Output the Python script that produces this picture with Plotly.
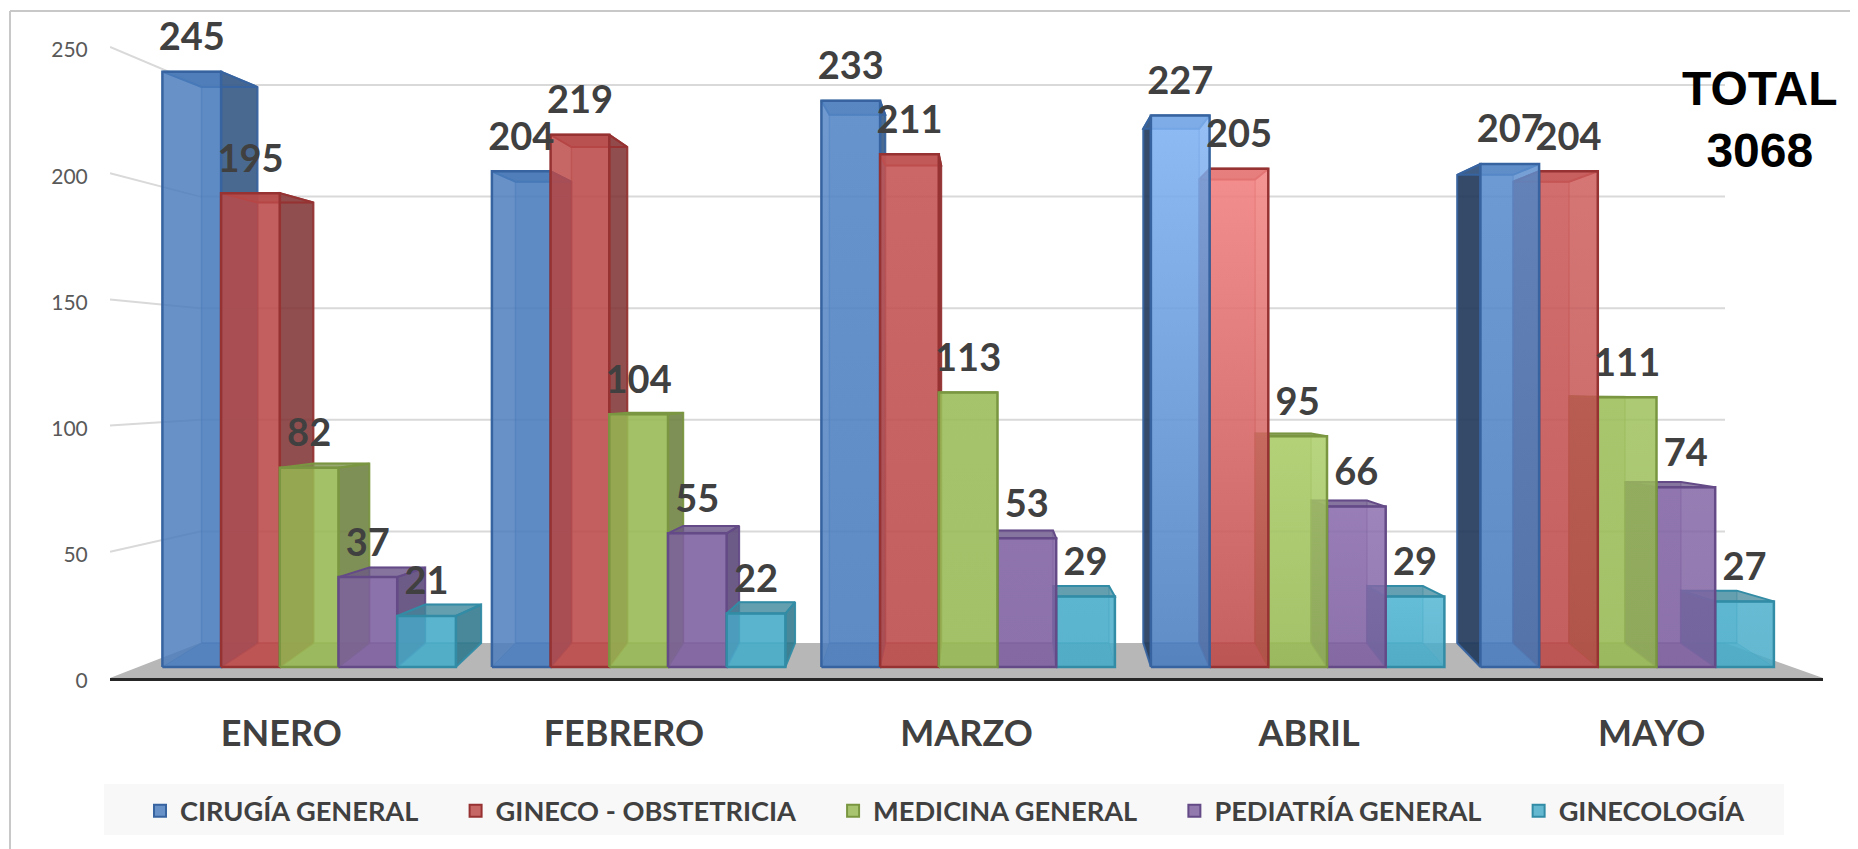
import plotly.graph_objects as go

MONTHS = ["ENERO", "FEBRERO", "MARZO", "ABRIL", "MAYO"]
SERIES = ["CIRUGÍA GENERAL", "GINECO - OBSTETRICIA", "MEDICINA GENERAL", "PEDIATRÍA GENERAL", "GINECOLOGÍA"]
CIRUGIA = [245, 204, 233, 227, 207]
GINECO_OBST = [195, 219, 211, 205, 204]
MEDICINA = [82, 104, 113, 95, 111]
PEDIATRIA = [37, 55, 53, 66, 74]
GINECOLOGIA = [21, 22, 29, 29, 27]
VALUES = [CIRUGIA, GINECO_OBST, MEDICINA, PEDIATRIA, GINECOLOGIA]
TICKS = [0, 50, 100, 150, 200, 250]
TOTAL = 3068

FRONT = [(103, 145, 199), (198, 103, 102), (168, 196, 111), (146, 121, 174), (100, 184, 208)]
EDGE = [(55, 100, 160), (150, 50, 50), (122, 150, 65), (100, 75, 135), (50, 140, 165)]
SIDE = [(45, 80, 125), (125, 50, 50), (105, 125, 60), (85, 65, 115), (45, 115, 135)]
MONTH_GLOW = [0, 0, 10, 55, 18]
SERIES_GLOW = [1, 1, .35, .25, .2]
FRONT_ALPHA = 0.84

# figure geometry, in page pixels (the page body has an 8px margin)
PAGE = 8
W, H = 1858 - PAGE, 849 - PAGE
PL, PR, BASE = 110, 1823, 678
UY = 2.524
UX = (PR - PL) / 5
def X(px): return -0.5 + (px - PL) / UX
def Y(py): return (BASE - py) / UY
def PX(px): return (px - PL) / (PR - PL)
def PY(py): return (BASE - py) / (BASE - PAGE)

# 3-D projection of a bar (front plane / back plane)
F0, FK = 667, 2.43
B0 = 643
T0, TK = 653, 2.31
GK = (643 - 85) / 250
G0X, GP, BW = 162.4, 329.5, 58.7
VX, DEPTH = 990, 0.0473
def fy(v): return Y(F0 - v * FK)
def by(v): return Y(T0 - v * TK)
def bx(x): return x + (VX - x) * DEPTH

def rgba(c, a): return f"rgba({c[0]},{c[1]},{c[2]},{a})"
def unblend(c, a): return tuple(max(0, round((k - 255 * (1 - a)) / a)) for k in c)
def glow(c, k): return tuple(min(255, round(q + k)) for q in c)
def shade(c, f): return tuple(round(q * f) for q in c)

fig = go.Figure()

def poly(xs, ys, fill, line, width=2, grad=None):
    kw = {}
    if grad is not None:
        kw["fillgradient"] = dict(type="vertical", colorscale=grad)
    fig.add_trace(go.Scatter(x=[X(p) for p in xs] + [X(xs[0])], y=list(ys) + [ys[0]], mode="lines", fill="toself",
                             fillcolor=fill, line=dict(color=line, width=width), hoverinfo="skip", showlegend=False, **kw))

# back-wall gridlines with their slanted left part
for t in TICKS[1:]:
    gy = Y(643 - t * GK)
    fig.add_trace(go.Scatter(x=[X(PL), X(200), X(1725)], y=[t, gy, gy], mode="lines",
                             line=dict(color="#D9D9D9", width=2), hoverinfo="skip", showlegend=False))

# floor
poly([PL, PR, 1725, 200], [0, 0, Y(B0), Y(B0)], "#B7B7B7", "#B7B7B7", 0)

# bars, painted from the outermost towards the vanishing point
for m in range(len(MONTHS)):
    order = sorted(range(len(SERIES)), key=lambda s: -abs(G0X + m * GP + (s + .5) * BW - VX))
    for s in order:
        v = VALUES[s][m]
        x0 = G0X + m * GP + s * BW
        x1 = x0 + BW
        b0, b1 = bx(x0), bx(x1)
        k = MONTH_GLOW[m] * SERIES_GLOW[s]
        fc, ec, sc = FRONT[s], EDGE[s], SIDE[s]
        fill = unblend(fc, FRONT_ALPHA)
        # back face
        poly([b0, b1, b1, b0], [Y(B0), Y(B0), by(v), by(v)], rgba(glow(fc, k * .6), 0.35), rgba(ec, 0.45), 1.5)
        # floor face
        poly([x0, x1, b1, b0], [fy(0), fy(0), Y(B0), Y(B0)], rgba(fc, 0.45), rgba(ec, 0.4), 1)
        # side face facing the viewer
        if x1 < VX:
            poly([x1, b1, b1, x1], [fy(0), Y(B0), by(v), fy(v)], rgba(sc, 0.82), rgba(ec, 0.9), 2)
        elif x0 > VX:
            dark = shade(sc, 0.68) if s == 0 else sc
            poly([x0, b0, b0, x0], [fy(0), Y(B0), by(v), fy(v)], rgba(dark, 0.88), rgba(ec, 0.9), 2)
        # top face
        poly([x0, x1, b1, b0], [fy(v), fy(v), by(v), by(v)], rgba(glow(sc, 20), 0.75), rgba(ec, 1), 2)
        # front face
        grad = [[0, rgba(fill, FRONT_ALPHA)], [1, rgba(glow(fill, k), FRONT_ALPHA)]] if k else None
        poly([x0, x1, x1, x0], [fy(0), fy(0), fy(v), fy(v)], rgba(fill, FRONT_ALPHA), rgba(ec, 1), 2.5, grad)

# data labels
LABEL_LIFT = 12 / UY
for s, vals in enumerate(VALUES):
    xs = [X(G0X + m * GP + (s + .5) * BW) for m in range(len(vals))]
    fig.add_trace(go.Scatter(x=xs, y=[fy(v) + LABEL_LIFT for v in vals], mode="text", text=[str(v) for v in vals],
                             textposition="top center", textfont=dict(family="Lato", size=38, color="#404040", weight="bold"),
                             hoverinfo="skip", showlegend=False))

# legend entries
for s, name in enumerate(SERIES):
    fig.add_trace(go.Scatter(x=[None], y=[None], mode="markers", name=name + "\u00a0" * 5,
                             marker=dict(symbol="square", size=20, color=rgba(FRONT[s], 1), line=dict(color=rgba(EDGE[s], 1), width=2))))

fig.update_layout(
    width=W, height=H, margin=dict(l=PL - PAGE, r=W - (PR - PAGE), t=0, b=H - (BASE - PAGE)), autosize=False,
    paper_bgcolor="white", plot_bgcolor="rgba(0,0,0,0)",
    xaxis=dict(range=[-0.5, 4.5], tickmode="array", tickvals=list(range(5)), ticktext=MONTHS,
               tickfont=dict(family="Lato", size=36, color="#404040", weight="bold"),
               ticks="outside", ticklen=22, tickcolor="rgba(0,0,0,0)", showgrid=False, zeroline=False,
               showline=True, linecolor="#262626", linewidth=3),
    yaxis=dict(range=[0, (BASE - PAGE) / UY], tickmode="array", tickvals=TICKS, ticktext=[str(t) for t in TICKS],
               tickfont=dict(family="Lato", size=21, color="#595959"), ticklabelshift=3,
               ticks="outside", ticklen=17, tickcolor="rgba(0,0,0,0)", showgrid=False, zeroline=False, showline=False),
    legend=dict(orientation="h", x=PX(961), xanchor="center", y=PY(811), yanchor="middle", bgcolor="rgba(0,0,0,0)",
                font=dict(family="Lato", size=27.2, color="#404040", weight="bold"), itemclick=False, itemdoubleclick=False,
                itemsizing="constant"),
    shapes=[
        dict(type="rect", xref="paper", yref="paper", layer="below", line_width=0, fillcolor="#F8F8F8",
             x0=PX(104), x1=PX(1784), y0=PY(835), y1=PY(784)),
        dict(type="line", xref="paper", yref="paper", line=dict(color="#C8C8C8", width=2),
             x0=PX(10), x1=PX(10), y0=PY(849), y1=PY(11)),
        dict(type="line", xref="paper", yref="paper", line=dict(color="#C8C8C8", width=2),
             x0=PX(10), x1=PX(1858), y0=PY(11), y1=PY(11)),
    ],
    annotations=[dict(text=f"TOTAL<br>{TOTAL}", xref="x", yref="y", x=X(1760), y=Y(119), showarrow=False,
                      font=dict(family="Liberation Sans", size=48, color="black", weight="bold"), align="center")],
)
fig.write_html("out.html")
